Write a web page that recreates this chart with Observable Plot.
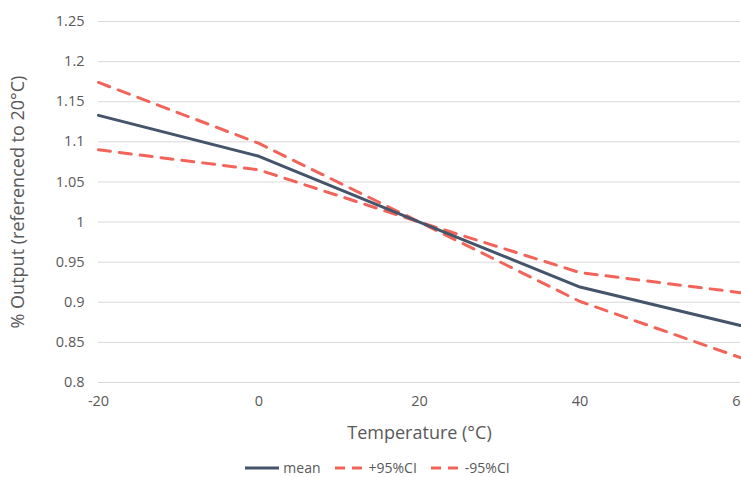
<!DOCTYPE html>
<html><head><meta charset="utf-8">
<script src="https://cdn.jsdelivr.net/npm/d3@7"></script>
<script src="https://cdn.jsdelivr.net/npm/@observablehq/plot@0.6"></script>
<style>
body{margin:0;background:#fff;font-family:"Open Sans",sans-serif;}
#legend{display:flex;justify-content:center;align-items:center;gap:14px;font-size:14px;color:#595959;height:27px;margin-top:4px;margin-left:14px}
#legend span{display:inline-flex;align-items:center;gap:4px}
</style></head><body>
<div id="chart"></div>
<div id="legend"></div>
<script>
const temps = [-20, 0, 20, 40, 60];
const meanVals = [1.133, 1.082, 1.0, 0.919, 0.871];
const ciUpper = [1.090, 1.065, 1.0, 0.937, 0.912];
const ciLower = [1.174, 1.098, 1.0, 0.901, 0.831];
const yTicks = [0.8, 0.85, 0.9, 0.95, 1, 1.05, 1.1, 1.15, 1.2, 1.25];
const xTicks = [-20, 0, 20, 40, 60];
const seriesNames = ["mean", "+95%CI", "-95%CI"];

const navy = "#44546A", red = "#F2645A";
const toRows = vals => temps.map((t, i) => ({t, v: vals[i]}));

const chart = Plot.plot({
  width: 741, height: 450,
  marginLeft: 98, marginRight: 1, marginTop: 21, marginBottom: 68,
  style: {fontFamily: "'Open Sans', sans-serif", fontSize: "14.5px", color: "#595959", overflow: "visible"},
  x: {domain: [-20, 60], label: null},
  y: {domain: [0.8, 1.25], label: null},
  marks: [
    Plot.gridY(yTicks, {stroke: "#d9d9d9", strokeOpacity: 1, strokeWidth: 1}),
    Plot.axisX({ticks: xTicks, tickSize: 0, tickPadding: 13, tickFormat: d => String(d), label: null, fontSize: 14.5}),
    Plot.axisY({ticks: yTicks, tickSize: 0, tickPadding: 14, tickFormat: d => String(d), label: null, fontSize: 14.5}),
    Plot.line(toRows(ciUpper), {x: "t", y: "v", stroke: red, strokeWidth: 3, strokeDasharray: "12,9"}),
    Plot.line(toRows(ciLower), {x: "t", y: "v", stroke: red, strokeWidth: 3, strokeDasharray: "12,9"}),
    Plot.line(toRows(meanVals), {x: "t", y: "v", stroke: navy, strokeWidth: 3}),
    Plot.text(["Temperature (°C)"], {frameAnchor: "bottom", dy: 56, fontSize: 18, fill: "#595959"}),
    Plot.text(["% Output (referenced to 20°C)"], {frameAnchor: "left", dx: -80, rotate: -90, textAnchor: "middle", fontSize: 18, fill: "#595959"})
  ]
});
document.getElementById("chart").appendChild(chart);

const legend = document.getElementById("legend");
seriesNames.forEach((name, i) => {
  const s = document.createElement("span");
  const dash = i === 0 ? "" : 'stroke-dasharray="10,7"';
  const col = i === 0 ? navy : red;
  const w = i === 0 ? 34 : 30;
  s.innerHTML = `<svg width="${w}" height="10"><line x1="0" x2="${w}" y1="5" y2="5" stroke="${col}" stroke-width="3" ${dash}/></svg>${name}`;
  legend.appendChild(s);
});
</script>
</body></html>
